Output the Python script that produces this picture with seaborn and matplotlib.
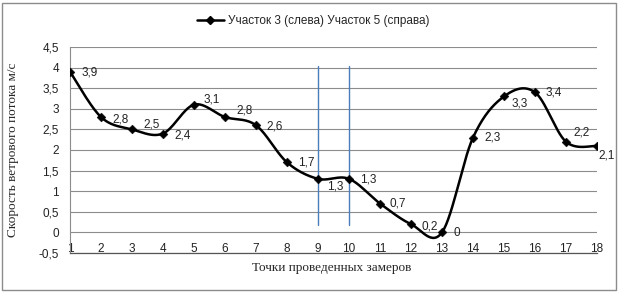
import numpy as np
import pandas as pd
import seaborn as sns
import matplotlib.pyplot as plt
from matplotlib.lines import Line2D
from matplotlib.patches import Rectangle
from matplotlib.ticker import FuncFormatter, MultipleLocator

# Data
points = list(range(1, 19))
speed = [3.9, 2.8, 2.5, 2.4, 3.1, 2.8, 2.6, 1.7, 1.3, 1.3, 0.7, 0.2, 0, 2.3, 3.3, 3.4, 2.2, 2.1]
marked_points = [9, 10]
series_name = 'Участок 3 (слева) Участок 5 (справа)'
x_title = 'Точки проведенных замеров'
y_title = 'Скорость ветрового потока м/с'

# label offsets in pixels (dx, dy), same order as points
label_offsets = [(12, -1), (11, -2), (11, 5), (11, -2), (10, 5), (11, 7), (10, -1), (11, 0),
                 (9, -8), (11, -1), (10, 0), (10, -2), (12, -1), (11, 0), (8, -7), (11, 0),
                 (7, 9), (1, -10)]


def catmull_rom(x, y, n=30):
    # smoothed line, like Excel's "smoothed line" option
    x = np.asarray(x, float)
    y = np.asarray(y, float)
    px = np.concatenate([[x[0]], x, [x[-1]]])
    py = np.concatenate([[y[0]], y, [y[-1]]])
    out_x, out_y = [], []
    t = np.linspace(0, 1, n, endpoint=False)
    for i in range(1, len(px) - 2):
        for arr, out in ((px, out_x), (py, out_y)):
            p0, p1, p2, p3 = arr[i - 1], arr[i], arr[i + 1], arr[i + 2]
            out.extend(0.5 * ((2 * p1) + (-p0 + p2) * t + (2 * p0 - 5 * p1 + 4 * p2 - p3) * t ** 2
                              + (-p0 + 3 * p1 - 3 * p2 + p3) * t ** 3))
    out_x.append(x[-1])
    out_y.append(y[-1])
    return np.array(out_x), np.array(out_y)


df = pd.DataFrame({'point': points, 'speed': speed})
sx, sy = catmull_rom(points, speed)
smooth = pd.DataFrame({'x': sx, 'y': sy})

sns.set_style('white')
plt.rcParams['font.family'] = ['Liberation Sans', 'DejaVu Sans']

fig = plt.figure(figsize=(6.19, 2.92), dpi=100)
ax = fig.add_axes([70 / 619, 1 - 253 / 292, (597 - 70) / 619, 206 / 292])

# outer frame of the chart
fig.patches.append(Rectangle((2 / 619, 2 / 292), 614 / 619, 287 / 292, transform=fig.transFigure,
                             fill=False, edgecolor='#8c8c8c', linewidth=1))

for v in marked_points:
    ax.plot([v, v], [0.17, 4.05], color='#4a7ebb', linewidth=1, zorder=2)

sns.lineplot(data=smooth, x='x', y='y', sort=False, estimator=None, color='black',
             linewidth=1.8, ax=ax, zorder=3)
sns.scatterplot(data=df, x='point', y='speed', marker='D', color='black', s=20,
                edgecolor='black', ax=ax, zorder=4)

for (p, v), (dx, dy) in zip(zip(points, speed), label_offsets):
    txt = f'{v:g}'.replace('.', ',')
    ax.annotate(txt, (p, v), xytext=(dx, dy), textcoords='offset pixels',
                ha='left', va='center', fontsize=8.5, color='#222222', zorder=5)

ax.set_xlim(1, 18)
ax.set_ylim(-0.5, 4.5)
ax.set_xticks(points)
ax.yaxis.set_major_locator(MultipleLocator(0.5))
ax.yaxis.set_major_formatter(FuncFormatter(lambda v, _: f'{v:g}'.replace('.', ',')))
ax.grid(axis='y', color='#8c8c8c', linewidth=0.8)
ax.grid(axis='x', visible=False)
ax.tick_params(axis='y', length=0, pad=8, labelsize=8.5, labelcolor='#222222')
ax.tick_params(axis='x', length=0, pad=-7, labelsize=8.5, labelcolor='#222222')
for s in ['top', 'right']:
    ax.spines[s].set_visible(False)
ax.spines['left'].set_color('#8c8c8c')
ax.spines['left'].set_linewidth(0.8)
ax.spines['bottom'].set_color('#555555')
ax.spines['bottom'].set_linewidth(0.9)

ax.set_xlabel('')
ax.set_ylabel('')
fig.text(332 / 619, 1 - 268 / 292, x_title, ha='center', va='center', fontsize=9.5,
         family=['Liberation Serif', 'DejaVu Serif'])
fig.text(13 / 619, 1 - 150 / 292, y_title, ha='center', va='center', rotation=90, fontsize=9.5,
         family=['Liberation Serif', 'DejaVu Serif'])

handle = Line2D([], [], color='black', linewidth=1.8, marker='D', markersize=4.5)
fig.legend([handle], [series_name], loc='center', bbox_to_anchor=(313 / 619, 1 - 21 / 292),
           frameon=False, fontsize=8.5, handlelength=2.3, handletextpad=0.3)

fig.savefig('out.png', dpi=100)
